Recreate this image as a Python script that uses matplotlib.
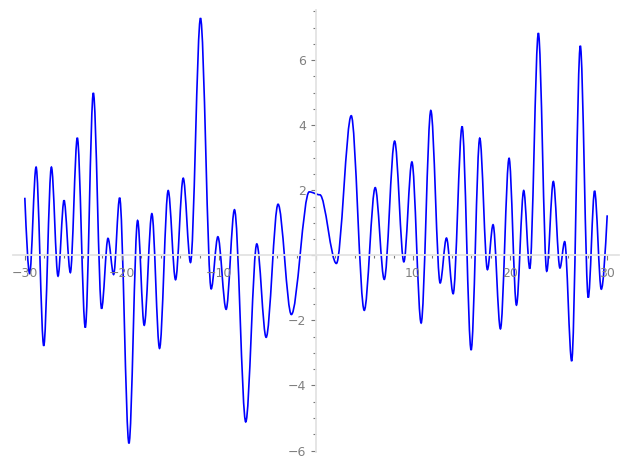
import numpy as np
import matplotlib
matplotlib.use("Agg")
import matplotlib.pyplot as plt
from matplotlib.path import Path
from matplotlib.patches import PathPatch
from matplotlib.ticker import MultipleLocator, FuncFormatter

# turning points of the curve (left to right)
x_pts = [-30.0, -29.5, -28.84, -28.05, -27.26, -26.58, -25.96, -25.31, -24.59, -23.77,
         -22.94, -22.09, -21.43, -20.85, -20.23, -19.27, -18.38, -17.70, -16.91, -16.12,
         -15.23, -14.47, -13.68, -12.93, -11.90, -10.80, -10.11, -9.26, -8.40, -7.24,
         -6.10, -5.14, -3.91, -2.54, -0.70, 0.40, 2.10, 3.63, 4.97, 6.10,
         7.03, 8.10, 9.05, 9.88, 10.83, 11.83, 12.79, 13.44, 14.13, 15.05,
         15.98, 16.87, 17.66, 18.24, 19.00, 19.89, 20.65, 21.40, 22.02, 22.91,
         23.77, 24.45, 25.13, 25.62, 26.34, 27.23, 28.05, 28.70, 29.39, 30.0]
y_pts = [1.77, -0.56, 2.71, -2.78, 2.71, -0.64, 1.69, -0.53, 3.61, -2.22,
         4.99, -1.64, 0.52, -0.59, 1.77, -5.78, 1.07, -2.15, 1.28, -2.86,
         1.99, -0.75, 2.37, -0.22, 7.29, -1.03, 0.57, -1.66, 1.40, -5.12,
         0.35, -2.52, 1.57, -1.82, 1.95, 1.86, -0.25, 4.29, -1.69, 2.08,
         -0.74, 3.51, -0.20, 2.87, -2.08, 4.45, -0.85, 0.53, -1.18, 3.96,
         -2.91, 3.60, -0.44, 0.94, -2.26, 2.98, -1.53, 1.99, -0.41, 6.83,
         -0.49, 2.27, -0.39, 0.42, -3.25, 6.44, -1.30, 1.98, -1.04, 1.23]

x_pts = np.array(x_pts)
y_pts = np.array(y_pts)
assert len(x_pts) == len(y_pts)

# smooth path through the turning points: flat tangents at each extremum,
# the two end points are not extrema so they get a sloped handle
verts = [(x_pts[0], y_pts[0])]
codes = [Path.MOVETO]
n = len(x_pts)
for i in range(n - 1):
    x0, y0 = x_pts[i], y_pts[i]
    x1, y1 = x_pts[i + 1], y_pts[i + 1]
    dx = x1 - x0
    dy = y1 - y0
    c1 = (x0 + dx / 3, y0 + dy / 2) if i == 0 else (x0 + dx / 3, y0)
    c2 = (x1 - dx / 3, y1 - dy / 2) if i == n - 2 else (x1 - dx / 3, y1)
    verts += [c1, c2, (x1, y1)]
    codes += [Path.CURVE4] * 3

fig = plt.figure(figsize=(6.27, 4.69), dpi=100)
ax = fig.add_axes([0.021, 0.0365, 0.966, 0.943])

ax.add_patch(PathPatch(Path(verts, codes), facecolor="none",
                       edgecolor="#0000ff", lw=1.2))

# 2% padding around the data range
xr = x_pts.max() - x_pts.min()
yr = y_pts.max() - y_pts.min()
ax.set_xlim(x_pts.min() - 0.02 * xr, x_pts.max() + 0.02 * xr)
ax.set_ylim(y_pts.min() - 0.02 * yr, y_pts.max() + 0.02 * yr)

for s in ["top", "right"]:
    ax.spines[s].set_visible(False)
for s in ["left", "bottom"]:
    ax.spines[s].set_position("zero")
    ax.spines[s].set_color("#e3e3e3")
    ax.spines[s].set_linewidth(1.3)

ax.xaxis.set_major_locator(MultipleLocator(10))
ax.xaxis.set_minor_locator(MultipleLocator(2))
ax.yaxis.set_major_locator(MultipleLocator(2))
ax.yaxis.set_minor_locator(MultipleLocator(0.5))

hide_zero = FuncFormatter(lambda v, p: "" if abs(v) < 1e-9 else "%d" % v if v >= 0 else "\u2212%d" % -v)
ax.xaxis.set_major_formatter(hide_zero)
ax.yaxis.set_major_formatter(hide_zero)

ax.tick_params(axis="both", which="both", color="#777777", labelcolor="#808080",
               labelsize=9, width=0.8)
ax.tick_params(axis="x", which="major", direction="out", length=3.5, pad=5)
ax.tick_params(axis="x", which="minor", direction="out", length=2.5)
ax.tick_params(axis="y", which="major", direction="out", length=3.5, pad=3.5)
ax.tick_params(axis="y", which="minor", direction="out", length=2)

fig.savefig("out.png", dpi=100)
